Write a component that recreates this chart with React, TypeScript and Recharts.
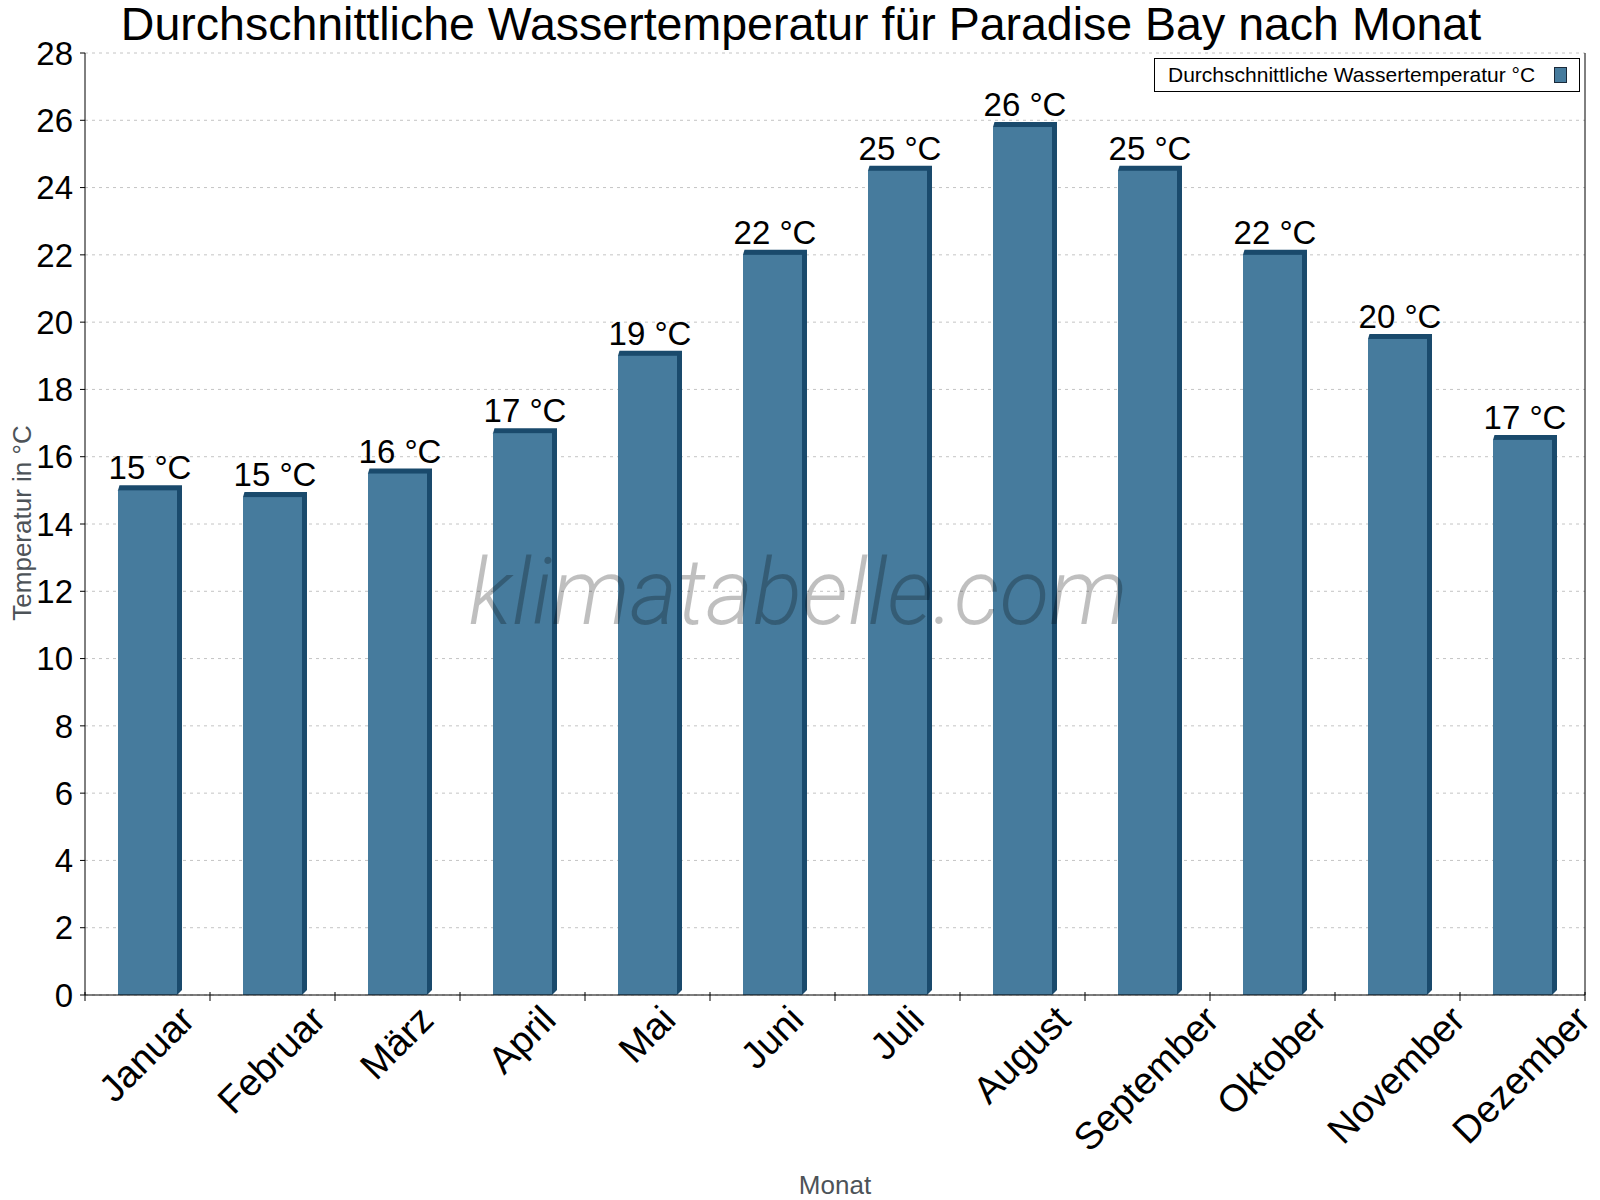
import React from 'react';
import { BarChart, Bar, XAxis, YAxis, CartesianGrid, LabelList, Legend, ReferenceLine } from 'recharts';

const MONTHS = ['Januar', 'Februar', 'März', 'April', 'Mai', 'Juni', 'Juli', 'August', 'September', 'Oktober', 'November', 'Dezember'];
const WATER_TEMPS = [15, 14.8, 15.5, 16.7, 19, 22, 24.5, 25.8, 24.5, 22, 19.5, 16.5];
const Y_TICKS = [0, 2, 4, 6, 8, 10, 12, 14, 16, 18, 20, 22, 24, 26, 28];

const TITLE = 'Durchschnittliche Wassertemperatur für Paradise Bay nach Monat';
const SERIES_NAME = 'Durchschnittliche Wassertemperatur °C';

const FONT = "'Liberation Sans', Arial, sans-serif";
const FRONT = '#467b9d';
const SIDE = '#1a4a6c';
const DEPTH = 5;
const PLOT_W = 1500;
const MONTH_FONT = 38;

const data = MONTHS.map((month, i) => ({ month, temp: WATER_TEMPS[i] }));

let ctx: CanvasRenderingContext2D | null = null;
const measure = (s: string, size: number) => {
  if (!ctx) ctx = document.createElement('canvas').getContext('2d');
  if (!ctx) return s.length * size * 0.5;
  ctx.font = `${size}px 'Liberation Sans'`;
  return ctx.measureText(s).width;
};

// 3D-ish bar: dark top strip + right side behind a flat front
const Bar3D = (props: any) => {
  const { x, y, width, height } = props;
  if (height <= 0) return null;
  const pts = [
    [x, y],
    [x + 1.5, y - DEPTH],
    [x + width + DEPTH, y - DEPTH],
    [x + width + DEPTH, y + height - DEPTH],
    [x + width, y + height],
  ].map((p) => p.join(',')).join(' ');
  return (
    <g>
      <polygon points={pts} fill={SIDE} />
      <rect x={x} y={y} width={width} height={height} fill={FRONT} />
    </g>
  );
};

const ValueLabel = (props: any) => {
  const { x, y, width, value } = props;
  return (
    <text x={x + (width + DEPTH) / 2} y={y - DEPTH - 6} textAnchor="middle" fontSize={33} fontFamily={FONT} fill="#000">
      {`${Math.round(value)} °C`}
    </text>
  );
};

// month label rotated -45deg, plus tick marks at the category boundaries
const MonthTick = (props: any) => {
  const { x, y, payload, index } = props;
  const half = typeof payload.offset === 'number' && payload.offset > 0 ? payload.offset : PLOT_W / MONTHS.length / 2;
  const w = measure(payload.value, MONTH_FONT);
  const ex = x + 9 + 0.347 * w;
  const ey = y + 27;
  return (
    <g>
      <line x1={x - half} x2={x - half} y1={y - 3} y2={y + 6} stroke="#000" />
      {index === MONTHS.length - 1 && <line x1={x + half} x2={x + half} y1={y - 3} y2={y + 6} stroke="#000" />}
      <text x={ex} y={ey} transform={`rotate(-45 ${ex} ${ey})`} textAnchor="end" fontSize={MONTH_FONT} fontFamily={FONT} fill="#000">
        {payload.value}
      </text>
    </g>
  );
};

const LegendBox = () => (
  <div style={{ width: 424, height: 32, border: '1px solid #000', background: '#fff', position: 'relative', fontFamily: FONT }}>
    <span style={{ position: 'absolute', left: 13, top: 4, fontSize: 21, color: '#000', whiteSpace: 'nowrap' }}>{SERIES_NAME}</span>
    <span style={{ position: 'absolute', left: 399, top: 8, width: 11, height: 14, background: FRONT, border: '1px solid #1a2a3a' }} />
  </div>
);

export default function App() {
  return (
    <div style={{ position: 'absolute', left: 0, top: 0, width: 1600, height: 1200, background: '#fff', fontFamily: FONT }}>
      <BarChart width={1600} height={1200} data={data} margin={{ top: 53, right: 15, bottom: 0, left: 0 }}>
        <CartesianGrid horizontal vertical={false} stroke="#c4c4c4" strokeDasharray="3 4" />
        <XAxis dataKey="month" height={205} axisLine={{ stroke: '#000' }} tickLine={false} tickSize={0} tickMargin={0} tick={<MonthTick />} interval={0} />
        <YAxis domain={[0, 28]} ticks={Y_TICKS} width={85} tickSize={5} tickMargin={7} stroke="#000" tick={{ fontSize: 33, fill: '#000', fontFamily: FONT }} interval={0} />
        <ReferenceLine x={MONTHS[MONTHS.length - 1]} position="end" stroke="#000" ifOverflow="visible" />
        <Legend layout="horizontal" verticalAlign="middle" align="center" wrapperStyle={{ left: 1154, top: 58, width: 426 }} content={<LegendBox />} />
        <Bar dataKey="temp" name={SERIES_NAME} barSize={59} fill={FRONT} shape={<Bar3D />} isAnimationActive={false}>
          <LabelList dataKey="temp" content={<ValueLabel />} />
        </Bar>
      </BarChart>
      <svg width={1600} height={1200} style={{ position: 'absolute', left: 0, top: 0, pointerEvents: 'none' }}>
        <text x={801} y={40} textAnchor="middle" fontSize={46.5} fontFamily={FONT} fill="#000">{TITLE}</text>
        <text x={31} y={523} transform="rotate(-90 31 523)" textAnchor="middle" fontSize={26} fontFamily={FONT} fill="#4d5358">Temperatur in °C</text>
        <text x={835} y={1194} textAnchor="middle" fontSize={26} fontFamily={FONT} fill="#4d5358">Monat</text>
        <text x={798} y={624} textAnchor="middle" fontSize={92} fontFamily="Roboto, 'Open Sans', sans-serif" fontWeight={300} fontStyle="italic" fill="#000" fillOpacity={0.25} textLength={659} lengthAdjust="spacingAndGlyphs">klimatabelle.com</text>
      </svg>
    </div>
  );
}
